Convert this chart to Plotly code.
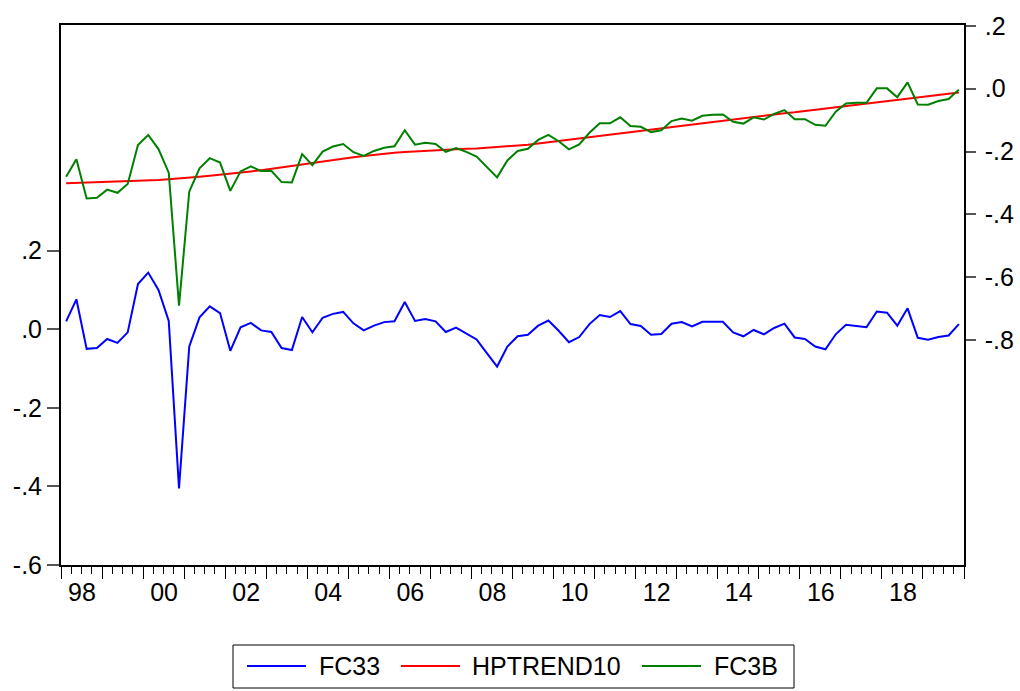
import plotly.graph_objects as go

# Quarterly observations 1998Q1 .. 2019Q4
start_year = 1998
n_quarters = 88
quarters = [start_year + (i + 0.5) / 4 for i in range(n_quarters)]

fc33 = [0.020, 0.076, -0.050, -0.048, -0.025, -0.035, -0.008, 0.115, 0.144, 0.100,
        0.021, -0.405, -0.044, 0.030, 0.058, 0.041, -0.055, 0.005, 0.016, -0.003,
        -0.007, -0.048, -0.053, 0.031, -0.008, 0.029, 0.039, 0.044, 0.015, -0.003,
        0.009, 0.018, 0.020, 0.069, 0.021, 0.026, 0.020, -0.007, 0.004, -0.010,
        -0.026, -0.061, -0.095, -0.044, -0.018, -0.014, 0.009, 0.022, -0.004, -0.033,
        -0.020, 0.013, 0.036, 0.031, 0.046, 0.013, 0.008, -0.014, -0.012, 0.014,
        0.018, 0.007, 0.019, 0.019, 0.019, -0.008, -0.018, -0.002, -0.013, 0.003,
        0.014, -0.021, -0.025, -0.044, -0.051, -0.013, 0.011, 0.008, 0.005, 0.045,
        0.042, 0.009, 0.053, -0.022, -0.027, -0.020, -0.016, 0.013]

hptrend10 = [-0.301, -0.300, -0.299, -0.298, -0.297, -0.296, -0.295, -0.294, -0.292, -0.290,
             -0.288, -0.286, -0.283, -0.280, -0.277, -0.274, -0.271, -0.267, -0.263, -0.259,
             -0.255, -0.251, -0.246, -0.241, -0.236, -0.231, -0.227, -0.222, -0.218, -0.214,
             -0.210, -0.207, -0.204, -0.201, -0.199, -0.197, -0.196, -0.194, -0.193, -0.191,
             -0.190, -0.188, -0.186, -0.184, -0.181, -0.178, -0.174, -0.170, -0.166, -0.162,
             -0.158, -0.154, -0.150, -0.145, -0.140, -0.136, -0.132, -0.128, -0.124, -0.120,
             -0.116, -0.112, -0.108, -0.104, -0.100, -0.097, -0.093, -0.089, -0.085, -0.082,
             -0.078, -0.075, -0.071, -0.067, -0.063, -0.059, -0.055, -0.051, -0.047, -0.043,
             -0.040, -0.036, -0.032, -0.028, -0.024, -0.020, -0.016, -0.012]

fc3b = [-0.280, -0.224, -0.349, -0.347, -0.321, -0.331, -0.303, -0.179, -0.147, -0.192,
        -0.267, -0.690, -0.327, -0.253, -0.221, -0.235, -0.325, -0.263, -0.247, -0.262,
        -0.261, -0.297, -0.298, -0.208, -0.243, -0.200, -0.184, -0.176, -0.202, -0.214,
        -0.198, -0.188, -0.183, -0.132, -0.178, -0.172, -0.176, -0.201, -0.189, -0.201,
        -0.216, -0.249, -0.282, -0.228, -0.198, -0.191, -0.163, -0.147, -0.167, -0.193,
        -0.177, -0.140, -0.110, -0.110, -0.091, -0.119, -0.121, -0.138, -0.132, -0.103,
        -0.095, -0.102, -0.086, -0.083, -0.082, -0.105, -0.111, -0.091, -0.098, -0.080,
        -0.068, -0.097, -0.097, -0.115, -0.118, -0.073, -0.047, -0.045, -0.045, 0.001,
        0.001, -0.027, 0.020, -0.050, -0.051, -0.039, -0.033, -0.003]

series_names = ["FC33", "HPTREND10", "FC3B"]
series_colors = ["#0000FF", "#FF0000", "#008000"]

year_ticks = list(range(1998, 2021))
year_text = [("%02d" % (y % 100)) if (y % 2 == 0 and y < 2020) else "" for y in year_ticks]

left_ticks = [-0.6, -0.4, -0.2, 0.0, 0.2]
left_text = ["-.6", "-.4", "-.2", ".0", ".2"]
right_ticks = [-0.8, -0.6, -0.4, -0.2, 0.0, 0.2]
right_text = ["-.8", "-.6", "-.4", "-.2", ".0", ".2"]

FONT = "Liberation Sans, Arial, sans-serif"
FS = 25

fig = go.Figure()
fig.add_trace(go.Scatter(x=quarters, y=fc33, mode="lines", name=series_names[0],
                         line=dict(color=series_colors[0], width=2), yaxis="y",
                         showlegend=False))
fig.add_trace(go.Scatter(x=quarters, y=hptrend10, mode="lines", name=series_names[1],
                         line=dict(color=series_colors[1], width=2), yaxis="y2",
                         showlegend=False))
fig.add_trace(go.Scatter(x=quarters, y=fc3b, mode="lines", name=series_names[2],
                         line=dict(color=series_colors[2], width=2), yaxis="y2",
                         showlegend=False))

L, R, T, B = 61, 964, 25, 565
W, H = 1020, 691


def px(xp):
    return (xp - L) / (R - L)


def py(yp):
    return (B - yp) / (B - T)


shapes = []
annotations = []
# legend box
shapes.append(dict(type="rect", xref="paper", yref="paper",
                   x0=px(233), x1=px(794), y0=py(688), y1=py(645),
                   line=dict(color="black", width=1), fillcolor="white"))
leg_y = py(666)
leg_items = [(247, 306, 317), (401, 460, 470), (642, 701, 712)]
for (x0, x1, xt), nm, col in zip(leg_items, series_names, series_colors):
    shapes.append(dict(type="line", xref="paper", yref="paper",
                       x0=px(x0), x1=px(x1), y0=leg_y, y1=leg_y,
                       line=dict(color=col, width=2)))
    annotations.append(dict(xref="paper", yref="paper", x=px(xt), y=leg_y,
                            text=nm, showarrow=False, xanchor="left", yanchor="middle",
                            font=dict(family=FONT, size=FS, color="black")))

fig.update_layout(
    width=W, height=H,
    margin=dict(l=L, r=W - R, t=T, b=H - B, autoexpand=False),
    paper_bgcolor="white", plot_bgcolor="white",
    font=dict(family=FONT, size=FS, color="black"),
    showlegend=False,
    shapes=shapes,
    annotations=annotations,
    xaxis=dict(
        range=[1998, 2020],
        tickmode="array", tickvals=year_ticks, ticktext=year_text,
        ticks="outside", ticklen=12, tickwidth=1, tickcolor="black",
        ticklabelshift=21, ticklabelstandoff=-8,
        minor=dict(tickmode="linear", tick0=1998, dtick=0.25, ticks="outside",
                   ticklen=7, tickwidth=1, tickcolor="black"),
        showline=True, linecolor="black", linewidth=1.5, mirror=True,
        showgrid=False, zeroline=False,
    ),
    yaxis=dict(
        range=[-0.6, 0.774],
        tickmode="array", tickvals=left_ticks, ticktext=left_text,
        ticks="outside", ticklen=12, tickwidth=1.5, tickcolor="#555555",
        showline=True, linecolor="black", linewidth=2,
        showgrid=False, zeroline=False,
    ),
    yaxis2=dict(
        range=[-1.5145, 0.2025], overlaying="y", side="right",
        tickmode="array", tickvals=right_ticks, ticktext=right_text,
        ticks="outside", ticklen=10, tickwidth=1.5, tickcolor="#555555",
        ticklabelstandoff=4,
        showline=True, linecolor="black", linewidth=1.5,
        showgrid=False, zeroline=False,
    ),
)

fig.write_html("out.html")
